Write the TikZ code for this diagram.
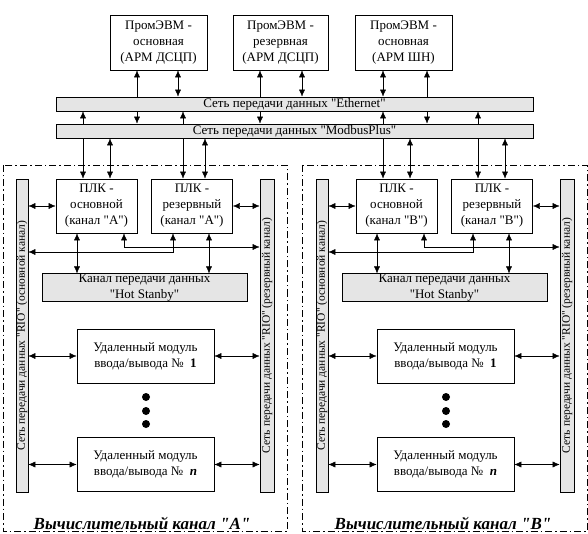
\documentclass[tikz,border=0pt]{standalone}
\usepackage{fontspec}
\setmainfont{Liberation Serif}[Ligatures=TeXOff]
\usetikzlibrary{positioning,arrows.meta,backgrounds}

\begin{document}
\begin{tikzpicture}[x=1pt, y=-1pt, line width=0.8pt,
            every node/.style={font=\fontsize{13}{16}\selectfont, inner sep=0pt},
            pcbox/.style={draw, fill=white, align=center, minimum height=55pt},
            plcbox/.style={draw, fill=white, align=center, minimum width=81pt, minimum height=54pt},
            modbox/.style={draw, fill=white, align=center, minimum width=137pt, minimum height=54pt},
            hbar/.style={draw, fill=black!10, align=center, minimum width=477pt, minimum height=14pt},
            vbar/.style={draw, fill=black!10, rotate=90, minimum width=313pt, minimum height=12pt, font=\fontsize{11.5}{14}\selectfont},
            hsbar/.style={draw, fill=black!10, align=center, minimum width=205pt, minimum height=27pt},
            dot/.style={circle, fill=black, minimum size=8pt},
            chframe/.style={dash pattern=on 7pt off 3pt on 1.5pt off 3pt},
            link/.style={{Latex[length=7pt,width=6pt]}-{Latex[length=7pt,width=6pt]}},
            title/.style={font=\fontsize{17}{20}\selectfont\bfseries\itshape}]
            \useasboundingbox (0,0) rectangle (588,534);
            % computers and networks
            \node [pcbox, minimum width=97pt] (pc1) at (158.5,42.5) {ПромЭВМ -\\основная\\(АРМ ДСЦП)};
            \node [pcbox, minimum width=95pt] (pc2) at (280.5,42.5) {ПромЭВМ -\\резервная\\(АРМ ДСЦП)};
            \node [pcbox, minimum width=97pt] (pc3) at (403.5,42.5) {ПромЭВМ -\\основная\\(АРМ ШН)};
            \node [hbar] (ether) at (294.5,104) {Сеть передачи данных "Ethernet"};
            \node [hbar] (modbus) at (294.5,131) {Сеть передачи данных "ModbusPlus"};
            % channel A
            \draw [chframe] (3,165) rectangle (287,531);
            \node [plcbox] (plcA1) at (96.5,206) {ПЛК -\\основной\\(канал "А")};
            \node [plcbox] (plcA2) at (192,206) {ПЛК -\\резервный\\(канал "А")};
            \node [vbar] (rioAl) at (22,335.5) {Сеть передачи данных "RIO" (основной канал)};
            \node [vbar, minimum height=14pt] (rioAr) at (267,335.5) {Сеть передачи данных "RIO" (резервный канал)};
            \node [hsbar] (hsA) at (144.5,287.5) {Канал передачи данных\\"Hot Stanby"};
            \node [modbox] (modA1) at (145.5,356) {Удаленный модуль\\ввода/вывода №\ \ \textbf{1}};
            \node [modbox] (modAn) at (145.5,464.5) {Удаленный модуль\\ввода/вывода №\ \ \textbf{\textit{n}}};
            \node [dot] (dotA1) at (146,397) {};
            \node [dot] (dotA2) at (146,411) {};
            \node [dot] (dotA3) at (146,424) {};
            \node [title] (titleA) at (142,523) {Вычислительный канал "А"};
            % channel B
            \draw [chframe] (302,165) rectangle (587,531);
            \node [plcbox] (plcB1) at (396.5,206) {ПЛК -\\основной\\(канал "В")};
            \node [plcbox] (plcB2) at (492,206) {ПЛК -\\резервный\\(канал "В")};
            \node [vbar] (rioBl) at (322,335.5) {Сеть передачи данных "RIO" (основной канал)};
            \node [vbar, minimum height=14pt] (rioBr) at (567,335.5) {Сеть передачи данных "RIO" (резервный канал)};
            \node [hsbar] (hsB) at (444.5,287.5) {Канал передачи данных\\"Hot Stanby"};
            \node [modbox] (modB1) at (445.5,356) {Удаленный модуль\\ввода/вывода №\ \ \textbf{1}};
            \node [modbox] (modBn) at (445.5,464.5) {Удаленный модуль\\ввода/вывода №\ \ \textbf{\textit{n}}};
            \node [dot] (dotB1) at (446,397) {};
            \node [dot] (dotB2) at (446,411) {};
            \node [dot] (dotB3) at (446,424) {};
            \node [title] (titleB) at (443,523) {Вычислительный канал "В"};
            % links that pass behind a bar
            \begin{pgfonlayer}{background}
            \draw [link] (pc1.south -| 137,0) -- (modbus.north -| 137,0);
            \draw [link] (pc2.south -| 260,0) -- (modbus.north -| 260,0);
            \draw [link] (pc3.south -| 427,0) -- (modbus.north -| 427,0);
            \draw [link] (plcA1.north -| 83,0) -- (ether.south -| 83,0);
            \draw [link] (plcA2.north -| 183,0) -- (ether.south -| 183,0);
            \draw [link] (plcB1.north -| 383,0) -- (ether.south -| 383,0);
            \draw [link] (plcB2.north -| 478,0) -- (ether.south -| 478,0);
            \end{pgfonlayer}
            \draw [link] (pc1.south -| 178,0) -- (ether.north -| 178,0);
            \draw [link] (pc2.south -| 302,0) -- (ether.north -| 302,0);
            \draw [link] (pc3.south -| 383,0) -- (ether.north -| 383,0);
            \draw [link] (plcA1.north -| 110,0) -- (modbus.south -| 110,0);
            \draw [link] (plcA2.north -| 205,0) -- (modbus.south -| 205,0);
            \draw [link] (plcB1.north -| 410,0) -- (modbus.south -| 410,0);
            \draw [link] (plcB2.north -| 505,0) -- (modbus.south -| 505,0);
            % links inside channel A
            \draw [link] (rioAl.south |- plcA1.west) -- (plcA1.west);
            \draw [link] (plcA2.east) -- (rioAr.north |- plcA2.east);
            \draw [link] (plcA1.south -| 77,0) -- (hsA.north -| 77,0);
            \draw [link] (plcA2.south -| 209,0) -- (hsA.north -| 209,0);
            \draw [link] (plcA1.south -| 124,0) |- (rioAr.north |- 0,247);
            \draw [link] (plcA2.south -| 173,0) |- (rioAl.south |- 0,252);
            \draw [link] (rioAl.south |- modA1.west) -- (modA1.west);
            \draw [link] (modA1.east) -- (rioAr.north |- modA1.east);
            \draw [link] (rioAl.south |- modAn.west) -- (modAn.west);
            \draw [link] (modAn.east) -- (rioAr.north |- modAn.east);
            % links inside channel B
            \draw [link] (rioBl.south |- plcB1.west) -- (plcB1.west);
            \draw [link] (plcB2.east) -- (rioBr.north |- plcB2.east);
            \draw [link] (plcB1.south -| 377,0) -- (hsB.north -| 377,0);
            \draw [link] (plcB2.south -| 509,0) -- (hsB.north -| 509,0);
            \draw [link] (plcB1.south -| 424,0) |- (rioBr.north |- 0,247);
            \draw [link] (plcB2.south -| 473,0) |- (rioBl.south |- 0,252);
            \draw [link] (rioBl.south |- modB1.west) -- (modB1.west);
            \draw [link] (modB1.east) -- (rioBr.north |- modB1.east);
            \draw [link] (rioBl.south |- modBn.west) -- (modBn.west);
            \draw [link] (modBn.east) -- (rioBr.north |- modBn.east);
\end{tikzpicture}
\end{document}
